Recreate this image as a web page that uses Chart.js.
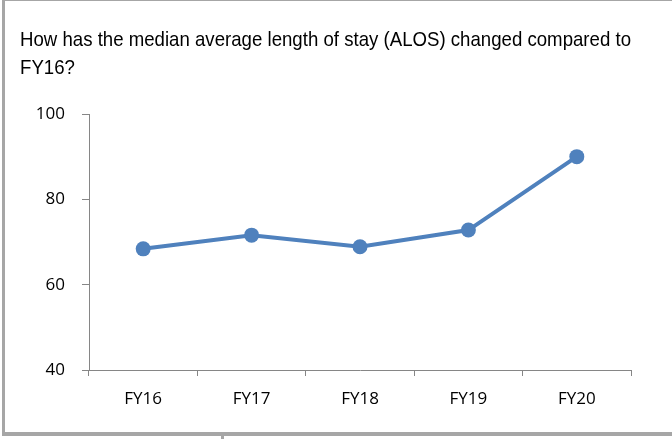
<!DOCTYPE html>
<html>
<head>
<meta charset="utf-8">
<script src="https://cdn.jsdelivr.net/npm/chart.js@4.4.1/dist/chart.umd.min.js"></script>
<style>
  body { margin: 0; background: #fff; overflow: hidden; }
  #wrap { position: relative; width: 672px; height: 439px; }
  #frame {
    position: absolute; left: 2px; top: 0; width: 670px; height: 436px;
    border-top: 1px solid #a6a6a6; border-left: 3px solid #a6a6a6; border-bottom: 4px solid #a6a6a6;
    box-sizing: border-box; pointer-events: none;
  }
  #nub { position: absolute; left: 221px; top: 435px; width: 3px; height: 4px; background: #a6a6a6; }
  #title {
    position: absolute; left: 20px; top: 25px; white-space: nowrap;
    font: 21px/28px "Liberation Sans", Arial, sans-serif; color: #000;
    transform-origin: 0 0;
  }
  canvas { position: absolute; left: 0; top: 0; }
</style>
</head>
<body>
<div id="wrap">
  <canvas id="chart" width="672" height="439"></canvas>
  <div id="frame"></div>
  <div id="nub"></div>
  <div id="title"></div>
</div>
<script>
// ================= DATA =================
const titleLines = ["How has the median average length of stay (ALOS) changed compared to", "FY16?"];
const years = ["FY16", "FY17", "FY18", "FY19", "FY20"];
const alos = [68.4, 71.6, 68.9, 72.8, 90];
const yTicks = [40, 60, 80, 100];

const axisGrey = "#868686";
const lineBlue = "#4f81bd";

// ================= TITLE =================
// the reference title is a slightly condensed Arial, so squeeze it to the same width
const titleEl = document.getElementById("title");
titleEl.innerHTML = titleLines.map(t => `<div>${t}</div>`).join("");
const firstLine = titleEl.firstChild;
firstLine.style.display = "inline-block";
const squeeze = 611 / firstLine.getBoundingClientRect().width;
firstLine.style.display = "block";
titleEl.style.transform = `scaleX(${Math.min(1, squeeze)})`;

// ================= CHART =================
const ctx = document.getElementById("chart").getContext("2d");

new Chart(ctx, {
    type: "line",
    data: {
        labels: years,
        datasets: [{
            data: alos,
            borderColor: lineBlue,
            backgroundColor: lineBlue,
            borderWidth: 4,
            pointRadius: 7.5,
            pointBorderWidth: 0,
            pointBackgroundColor: lineBlue,
            tension: 0
        }]
    },
    options: {
        responsive: false,
        animation: false,
        layout: { padding: { left: 19, right: 41, top: 114, bottom: 0 } },
        plugins: {
            legend: { display: false },
            tooltip: { enabled: false },
            title: { display: false }
        },
        scales: {
            x: {
                offset: true,
                grid: {
                    offset: true,
                    drawOnChartArea: false,
                    color: axisGrey,
                    tickLength: 6
                },
                border: { color: axisGrey, width: 1 },
                ticks: {
                    color: "#000",
                    padding: 13,
                    font: { family: "Open Sans", size: 17 }
                },
                afterFit: s => { s.height = 69; }
            },
            y: {
                min: 40,
                max: 100,
                afterBuildTicks: s => { s.ticks = yTicks.map(v => ({ value: v })); },
                grid: {
                    drawOnChartArea: false,
                    color: axisGrey,
                    tickLength: 7
                },
                border: { color: axisGrey, width: 1 },
                ticks: {
                    color: "#000",
                    padding: 17,
                    font: { family: "Open Sans", size: 17 }
                },
                afterFit: s => { s.width = 70; }
            }
        }
    }
});
</script>
</body>
</html>
